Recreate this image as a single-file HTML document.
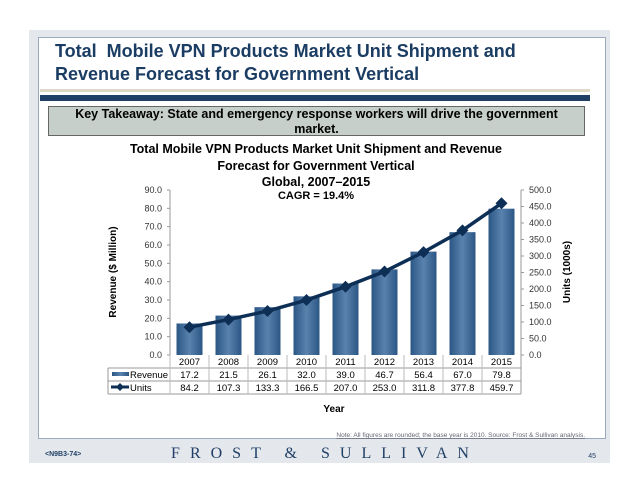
<!DOCTYPE html>
<html><head><meta charset="utf-8"><style>
body{margin:0;width:638px;height:493px;background:#fff;position:relative;font-family:"Liberation Sans",sans-serif;overflow:hidden}
.a{position:absolute}
</style></head><body>
<div class="a" style="left:29px;top:30px;width:581px;height:433px;background:#e4e7ec"></div>
<div class="a" style="left:38px;top:37px;width:566px;height:400px;background:#fff;border:1px solid #9aa9bb"></div>
<div class="a" style="left:55px;top:40px;font-size:18px;font-weight:bold;color:#1c3d63;line-height:23px;width:540px">Total&nbsp; Mobile VPN Products Market Unit Shipment and Revenue Forecast for Government Vertical</div>
<div class="a" style="left:40px;top:89px;width:550px;height:3px;background:#ddd9c4"></div>
<div class="a" style="left:40px;top:95px;width:550px;height:6px;background:#1f3f66"></div>
<div class="a" style="left:48px;top:106px;width:495px;height:28px;padding:0 20px;background:#c7cfca;border:1px solid #666;font-size:12.5px;font-weight:bold;text-align:center;line-height:15px">Key Takeaway: State and emergency response workers will drive the government market.</div>
<svg class="a" style="left:0;top:0" width="638" height="493">
<defs><linearGradient id="g" x1="0" x2="1"><stop offset="0" stop-color="#2b5684"/><stop offset=".5" stop-color="#5a82ad"/><stop offset="1" stop-color="#2b5684"/></linearGradient></defs>
<g font-weight="bold" font-size="12.5" text-anchor="middle" fill="#000">
<text x="316" y="153">Total Mobile VPN Products Market Unit Shipment and Revenue</text>
<text x="316" y="170">Forecast for Government Vertical</text>
<text x="316" y="186">Global, 2007–2015</text>
<text x="316" y="199" font-size="11">CAGR = 19.4%</text>
<text x="334" y="412" font-size="10">Year</text>
<text transform="translate(116,272) rotate(-90)" font-size="10">Revenue ($ Million)</text>
<text transform="translate(570,272) rotate(-90)" font-size="10">Units (1000s)</text>
</g>
<g id="plot"></g>
<text x="585" y="437" font-size="6.5" fill="#667" text-anchor="end" text-decoration="underline">Note: All figures are rounded; the base year is 2010. Source: Frost &amp; Sullivan analysis.</text>
<text x="45" y="456" font-size="7" font-weight="bold" fill="#1f3f66">&lt;N9B3-74&gt;</text>
<text x="325" y="458" font-size="16" fill="#1f3f66" font-family="Liberation Serif,serif" text-anchor="middle" letter-spacing="10">FROST &amp; SULLIVAN</text>
<text x="596" y="458" font-size="7" fill="#1f3f66" text-anchor="end">45</text>
</svg>
<script>
const years=["2007","2008","2009","2010","2011","2012","2013","2014","2015"];
const revenue=[17.2,21.5,26.1,32.0,39.0,46.7,56.4,67.0,79.8];
const units=[84.2,107.3,133.3,166.5,207.0,253.0,311.8,377.8,459.7];
const leftTicks=[0,10,20,30,40,50,60,70,80,90];
const rightTicks=[0,50,100,150,200,250,300,350,400,450,500];
const NS="http://www.w3.org/2000/svg",g=document.getElementById('plot');
const X0=170,PW=39,Y0=355,YT=190;
const yl=v=>Y0-(v/90)*(Y0-YT), yr=v=>Y0-(v/500)*(Y0-YT), xc=i=>X0+PW*i+PW/2;
function mk(t,a,txt){const e=document.createElementNS(NS,t);for(const k in a)e.setAttribute(k,a[k]);if(txt!==undefined)e.textContent=txt;g.appendChild(e);return e;}
let e;
e=mk('line',{x1:X0,y1:YT,x2:X0,y2:Y0,stroke:'#999'});

e=mk('line',{x1:X0+PW*9,y1:YT,x2:X0+PW*9,y2:Y0,stroke:'#999'});

leftTicks.forEach(v=>{mk('line',{x1:X0-3,x2:X0,y1:yl(v),y2:yl(v),stroke:'#999'});
e=mk('text',{x:X0-8,y:yl(v)+3,'font-size':9,'text-anchor':'end',fill:'#333'},v.toFixed(1));
});
rightTicks.forEach(v=>{mk('line',{x1:X0+PW*9,x2:X0+PW*9+3,y1:yr(v),y2:yr(v),stroke:'#999'});
e=mk('text',{x:X0+PW*9+8,y:yr(v)+3,'font-size':9,fill:'#333'},v.toFixed(1));
});
revenue.forEach((v,i)=>{e=mk('rect',{x:xc(i)-13,y:yl(v),width:26,height:Y0-yl(v),fill:'url(#g)'});
});
e=mk('polyline',{points:units.map((v,i)=>xc(i)+','+yr(v)).join(' '),fill:'none',stroke:'#0e2f55','stroke-width':3.5});

units.forEach((v,i)=>{const x=xc(i),y=yr(v);e=mk('polygon',{points:`${x},${y-6} ${x+6},${y} ${x},${y+6} ${x-6},${y}`,fill:'#0e2f55'});
});
const TL=108,R2=368,R3=381,R4=394,RX=X0+PW*9;
[[TL,R2,RX,R2],[TL,R3,RX,R3],[TL,R4,RX,R4],[TL,R2,TL,R4],[X0,Y0,X0,R4],[RX,Y0,RX,R4]].forEach(l=>mk('line',{x1:l[0],y1:l[1],x2:l[2],y2:l[3],stroke:'#999'}));
years.forEach((y,i)=>{mk('line',{x1:X0+PW*i,x2:X0+PW*i,y1:Y0,y2:R4,stroke:'#bbb'});
e=mk('text',{x:xc(i),y:365,'font-size':9.5,'text-anchor':'middle'},y);

e=mk('text',{x:xc(i),y:378,'font-size':9.5,'text-anchor':'middle'},revenue[i].toFixed(1));

e=mk('text',{x:xc(i),y:391,'font-size':9.5,'text-anchor':'middle'},units[i].toFixed(1));
});
e=mk('rect',{x:112,y:372,width:17,height:4,fill:'url(#g)'});

e=mk('text',{x:130,y:378,'font-size':9.5},'Revenue');

mk('line',{x1:111,x2:129,y1:387,y2:387,stroke:'#0e2f55','stroke-width':3});
e=mk('polygon',{points:'120,383 124,387 120,391 116,387',fill:'#0e2f55'});

e=mk('text',{x:130,y:391,'font-size':9.5},'Units');

</script>
</body></html>
